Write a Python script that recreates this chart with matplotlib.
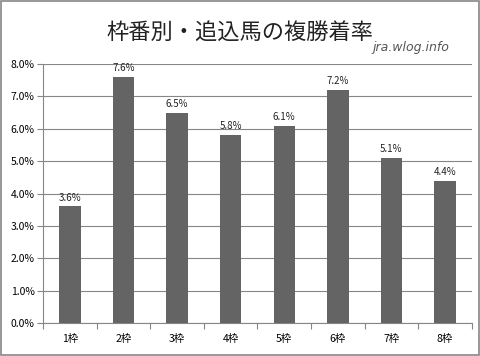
import matplotlib.pyplot as plt
from matplotlib.patches import Rectangle
from matplotlib.ticker import FuncFormatter

plt.rcParams['font.family'] = ['Noto Sans CJK JP', 'DejaVu Sans']

categories = ['1枠', '2枠', '3枠', '4枠', '5枠', '6枠', '7枠', '8枠']
rates = [3.6, 7.6, 6.5, 5.8, 6.1, 7.2, 5.1, 4.4]
labels = ['3.6%', '7.6%', '6.5%', '5.8%', '6.1%', '7.2%', '5.1%', '4.4%']

fig = plt.figure(figsize=(4.8, 3.56), dpi=100)
ax = fig.add_axes([0.0896, 0.0927, 0.8934, 0.7273])

x = range(len(categories))
ax.bar(x, rates, width=0.4, color='#646464', zorder=3)
for i, (v, t) in enumerate(zip(rates, labels)):
    ax.text(i, v + 0.12, t, ha='center', va='bottom', fontsize=7, color='#222222')

ax.set_xlim(-0.5, len(categories) - 0.5)
ax.set_ylim(0, 8)
ax.set_yticks([i for i in range(9)])
ax.yaxis.set_major_formatter(FuncFormatter(lambda v, p: f'{v:.1f}%'))
ax.set_xticks(list(x))
ax.set_xticklabels(categories)
ax.set_xticks([i - 0.5 for i in range(len(categories) + 1)], minor=True)
ax.tick_params(axis='x', which='major', length=0, pad=8, labelsize=7.5)
ax.tick_params(axis='x', which='minor', length=4, color='#868686', width=0.8, direction='out')
ax.tick_params(axis='y', length=4, color='#868686', width=0.8, labelsize=7.5, pad=2)
ax.grid(axis='y', color='#868686', linewidth=0.8, zorder=0)

for s in ['top', 'right']:
    ax.spines[s].set_visible(False)
ax.spines['left'].set_color('#868686')
ax.spines['bottom'].set_color('#868686')

fig.text(0.5, 0.907, '枠番別・追込馬の複勝着率', ha='center', va='center', fontsize=16,
         color='#222222')
fig.text(0.937, 0.866, 'jra.wlog.info', ha='right', va='center', fontsize=9,
         style='italic', color='#555555', family='DejaVu Sans')

fig.patches.append(Rectangle((0.002, 0.003), 0.996, 0.994, transform=fig.transFigure,
                             fill=False, edgecolor='#868686', linewidth=1.2))

fig.savefig('out.png', dpi=100)
